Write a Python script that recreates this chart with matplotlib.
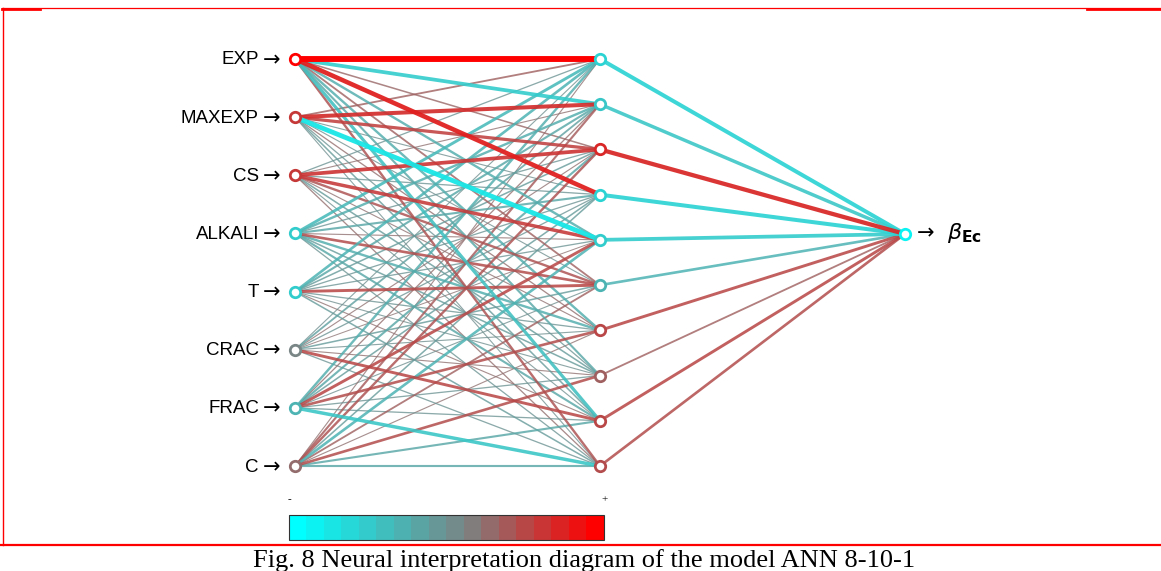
import numpy as np
import matplotlib
matplotlib.use("Agg")
import matplotlib.pyplot as plt
from matplotlib.colors import LinearSegmentedColormap

# ---------------- data ----------------
input_labels = ["EXP", "MAXEXP", "CS", "ALKALI", "T", "CRAC", "FRAC", "C"]
output_label = r"$\beta_{\mathbf{Ec}}$"
n_hidden = 10

# input -> hidden weights (rows: inputs, cols: hidden H1..H10), relative scale
w_ih = np.array([
    # H1    H2    H3    H4    H5    H6    H7    H8    H9    H10
    [1.00, -0.60, 0.20, 0.75, -0.35, 0.25, -0.35, -0.30, -0.50, 0.35],   # EXP
    [0.25, 0.65, 0.50, -0.12, -0.80, -0.12, 0.15, -0.15, -0.20, -0.12],   # MAXEXP
    [-0.15, 0.12, 0.60, -0.15, 0.55, 0.35, 0.12, -0.20, -0.12, 0.15],     # CS
    [-0.45, -0.35, -0.15, -0.30, 0.12, 0.40, -0.35, -0.20, -0.30, -0.15], # ALKALI
    [-0.40, -0.30, -0.20, -0.15, -0.15, 0.45, -0.15, -0.12, 0.12, -0.20], # T
    [-0.12, -0.25, 0.12, -0.15, 0.10, -0.20, -0.12, 0.12, 0.45, -0.15],   # CRAC
    [-0.35, 0.15, -0.30, -0.20, 0.45, -0.12, 0.40, -0.15, -0.15, -0.55],  # FRAC
    [0.12, 0.30, 0.35, -0.20, -0.40, 0.25, 0.12, 0.40, -0.30, -0.30],     # C
])
# hidden -> output weights
w_ho = np.array([-0.65, -0.55, 0.70, -0.65, -0.60, -0.40, 0.45, 0.25, 0.45, 0.40])

# node colour values
input_node_vals = [1.0, 0.55, 0.55, -0.6, -0.6, -0.05, -0.4, 0.15]
output_node_val = -0.9

caption = "Fig. 8 Neural interpretation diagram of the model ANN 8-10-1"

# ---------------- styling ----------------
W, H = 1161, 571
fig = plt.figure(figsize=(W / 100, H / 100), dpi=100)
ax = fig.add_axes([0, 0, 1, 1])
ax.set_xlim(0, W)
ax.set_ylim(H, 0)
ax.axis("off")

cmap = LinearSegmentedColormap.from_list(
    "nid", [(0.0, "#00ffff"), (0.58, "#808080"), (1.0, "#ff0000")])


def colpos(w):
    w = float(np.clip(w, -1, 1))
    return 0.58 * (1 + w) if w < 0 else 0.58 + 0.42 * w


def col(w):
    return cmap(colpos(w))


x_in, x_hid, x_out = 295, 600, 905
y_in = np.linspace(59, 466, len(input_labels))
y_hid = np.linspace(59, 466, n_hidden)
y_out = 234

# edges (thin first)
edges = []
for i in range(len(input_labels)):
    for j in range(n_hidden):
        edges.append((abs(w_ih[i, j]), x_in, y_in[i], x_hid, y_hid[j], w_ih[i, j]))
for j in range(n_hidden):
    edges.append((abs(w_ho[j]), x_hid, y_hid[j], x_out, y_out, w_ho[j]))
edges.sort(key=lambda e: e[0])
for mag, xa, ya, xb, yb, w in edges:
    ax.plot([xa, xb], [ya, yb], color=col(w), lw=0.35 + 3.9 * mag,
            alpha=0.75 + 0.25 * mag, solid_capstyle="round", zorder=2 + mag)

# nodes
for i, yv in enumerate(y_in):
    ax.plot(x_in, yv, "o", ms=7.5, mfc="white", mec=col(input_node_vals[i]),
            mew=2, zorder=10)
for j, yv in enumerate(y_hid):
    ax.plot(x_hid, yv, "o", ms=7.5, mfc="white", mec=col(w_ho[j]), mew=2, zorder=10)
ax.plot(x_out, y_out, "o", ms=7.5, mfc="white", mec=col(output_node_val), mew=2, zorder=10)

# labels
for lab, yv in zip(input_labels, y_in):
    ax.text(x_in - 36, yv + 1, lab, ha="right", va="center", fontsize=13.5,
            family=["Liberation Sans", "DejaVu Sans"])
    ax.text(x_in - 32, yv + 1, "\u2192", ha="left", va="center", fontsize=15,
            family=["DejaVu Sans"])
ax.text(x_out + 12, y_out - 1, "\u2192", ha="left", va="center", fontsize=15,
        family=["DejaVu Sans"])
ax.text(x_out + 42, y_out - 1, output_label, ha="left", va="center", fontsize=16,
        family=["DejaVu Sans"])

# colour bar
grad = np.linspace(0, 1, 18).reshape(1, -1)
ax.imshow(grad, cmap=cmap, aspect="auto", extent=[289, 604, 540, 515],
          interpolation="nearest", zorder=5)
ax.add_patch(plt.Rectangle((289, 515), 315, 25, fill=False, ec="#333333", lw=0.8,
                           zorder=6))
ax.text(289, 500, "-", ha="center", va="center", fontsize=8,
        family=["Liberation Serif"])
ax.text(605, 500, "+", ha="center", va="center", fontsize=8,
        family=["Liberation Serif"])

# frame (document table borders)
red = "#ff0000"
ax.plot([2, W], [8, 8], color=red, lw=0.9, zorder=20)
ax.plot([2, 40], [9, 9], color=red, lw=2, zorder=20)
ax.plot([1087, W], [9, 9], color=red, lw=2, zorder=20)
ax.plot([2.5, 2.5], [8, 545], color=red, lw=1, zorder=20)
ax.plot([0, W], [545, 545], color=red, lw=1.6, zorder=20)

# caption
ax.text(584, 561, caption, ha="center", va="center", fontsize=19,
        family=["Liberation Serif"])

fig.savefig("out.png", dpi=100)
